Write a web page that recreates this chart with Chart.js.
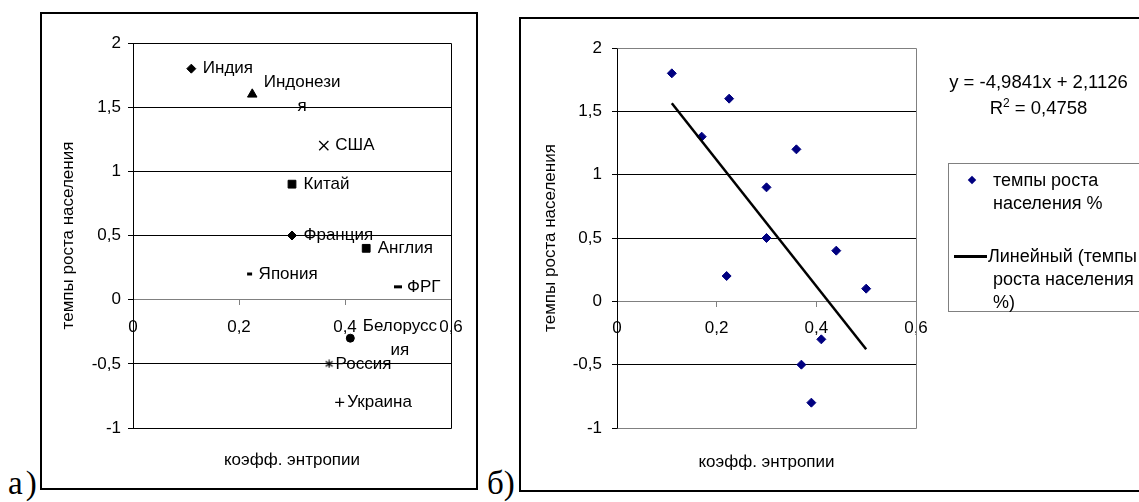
<!DOCTYPE html>
<html lang="ru">
<head>
<meta charset="utf-8">
<title>Темпы роста населения и коэфф. энтропии</title>
<script src="https://cdn.jsdelivr.net/npm/chart.js@4.4.0/dist/chart.umd.min.js"></script>
<style>
  html, body { margin:0; padding:0; background:#fff; overflow:hidden; }
  body { width:1139px; height:502px; position:relative; font-family:'Liberation Sans', Arial, sans-serif; color:#000; }
  .frame { position:absolute; border:2px solid #000; box-sizing:border-box; pointer-events:none; }
  .panel { position:absolute; }
  .tag { position:absolute; font-family:'Liberation Serif','Times New Roman',serif; font-size:33px; line-height:33px; }
  .txt { position:absolute; font-size:18px; line-height:20px; white-space:nowrap; }
  #legendBox { position:absolute; left:948px; top:163px; width:230px; height:149px; border:1px solid #808080; box-sizing:border-box; background:#fff; }
  #eq { position:absolute; left:938px; top:69px; width:201px; text-align:center; font-size:18.5px; line-height:26px; white-space:nowrap; }
  #eq .sup { font-size:12px; position:relative; top:-7px; }
  .mk { position:absolute; left:969px; top:177px; width:6px; height:6px; background:#000080; transform:rotate(45deg); }
  .ln { position:absolute; left:954px; top:255px; width:33px; height:2.5px; background:#000; }
</style>
</head>
<body>

<div class="frame" style="left:40px;top:12px;width:438px;height:478px"></div>
<div class="frame" style="left:519px;top:17px;width:640px;height:475px"></div>
<div class="tag" style="left:8px;top:467px;letter-spacing:3px">а)</div>
<div class="tag" style="left:487px;top:467px">б)</div>

<div class="panel" style="left:41px;top:13px"><canvas id="chartA" width="436" height="476"></canvas></div>
<div class="panel" style="left:520px;top:18px"><canvas id="chartB" width="619" height="473"></canvas></div>

<div id="eq">y = -4,9841x + 2,1126<br>R<span class="sup">2</span> = 0,4758</div>

<div id="legendBox"></div>
<div class="mk"></div>
<div class="txt" style="left:993px;top:170px">темпы роста</div>
<div class="txt" style="left:993px;top:193px">населения %</div>
<div class="ln"></div>
<div class="txt" style="left:988px;top:246px">Линейный (темпы</div>
<div class="txt" style="left:993px;top:269px">роста населения</div>
<div class="txt" style="left:993px;top:292px">%)</div>

<script>
// --- данные (а) ---
const countries = ['Индия','Индонезия','США','Китай','Франция','Англия','Япония','ФРГ','Белоруссия','Россия','Украина'];
const labelLines = [['Индия'],['Индонези','я'],['США'],['Китай'],['Франция'],['Англия'],['Япония'],['ФРГ'],['Белорусс','ия'],['Россия'],['Украина']];
const entropyA = [0.11, 0.225, 0.36, 0.30, 0.30, 0.44, 0.22, 0.50, 0.41, 0.37, 0.39];
const growthA  = [1.8, 1.6, 1.2, 0.9, 0.5, 0.4, 0.2, 0.1, -0.3, -0.5, -0.8];

// --- данные (б) ---
const entropyB = [0.11, 0.17, 0.225, 0.36, 0.30, 0.30, 0.44, 0.22, 0.50, 0.41, 0.37, 0.39];
const growthB  = [1.8, 1.3, 1.6, 1.2, 0.9, 0.5, 0.4, 0.2, 0.1, -0.3, -0.5, -0.8];
const trendX = [0.11, 0.50];
const trendY = [1.564, -0.379];

const yTicks = {min: -1, max: 2, step: 0.5};
const xTicks = {min: 0, max: 0.6, step: 0.2};

const GRAY = '#808080';
const FONT = {family: "'Liberation Sans', Arial, sans-serif", size: 17};
const comma = v => String(Math.round(v * 10) / 10).replace('.', ',');

// звёздочка как в Excel (вертикаль + косой крест)
function asterisk() {
  const c = document.createElement('canvas');
  c.width = 9; c.height = 9;
  const g = c.getContext('2d');
  g.strokeStyle = '#000'; g.lineWidth = 1.2;
  g.beginPath();
  g.moveTo(4.5, 0.5); g.lineTo(4.5, 8.5);
  g.moveTo(1, 2); g.lineTo(8, 7);
  g.moveTo(8, 2); g.lineTo(1, 7);
  g.stroke();
  return c;
}

const starMark = asterisk();
const markerA = ['rectRot','triangle','crossRot','rect','rectRot','rect','line','line','circle', starMark,'cross'];
const radiusA = [4.5, 5.5, 6.5, 5.5, 4.5, 5.5, 2.5, 4, 4, 5, 4.5];
const widthA  = [1, 1, 1.3, 1, 1, 1, 3, 3, 1, 1, 1.3];

// отступ подписи от маркера зависит от вида маркера
function labelGap(style) {
  if (style === starMark) return 6.5;
  return {line: 9, cross: 7.5, circle: 12.5}[style] || 11.5;
}

// рамка области построения (верх, право, низ)
const plotFrame = {
  id: 'plotFrame',
  beforeDatasetsDraw(chart, args, opts) {
    const {ctx, chartArea: a} = chart;
    ctx.save();
    ctx.strokeStyle = opts.color; ctx.lineWidth = 1;
    ctx.beginPath();
    ctx.moveTo(Math.round(a.left) + 0.5, Math.round(a.top) + 0.5);
    ctx.lineTo(Math.round(a.right) + 0.5, Math.round(a.top) + 0.5);
    ctx.lineTo(Math.round(a.right) + 0.5, Math.round(a.bottom) + 0.5);
    ctx.lineTo(Math.round(a.left) + 0.5, Math.round(a.bottom) + 0.5);
    ctx.stroke();
    ctx.restore();
  }
};

// подписи стран справа от маркеров
const pointLabels = {
  id: 'pointLabels',
  afterDatasetsDraw(chart, args, opts) {
    if (!opts.lines) return;
    const {ctx} = chart;
    const meta = chart.getDatasetMeta(0);
    const styles = chart.data.datasets[0].pointStyle;
    ctx.save();
    ctx.font = `${FONT.size}px ${FONT.family}`;
    ctx.fillStyle = '#000';
    ctx.textAlign = 'center';
    ctx.textBaseline = 'middle';
    meta.data.forEach((pt, i) => {
      const lines = opts.lines[i];
      const w = Math.max(...lines.map(l => ctx.measureText(l).width));
      const x0 = pt.x + labelGap(styles[i]);
      lines.forEach((l, j) => {
        ctx.fillText(l, x0 + w / 2, pt.y + (j - (lines.length - 1) / 2) * opts.lineHeight);
      });
    });
    ctx.restore();
  }
};

function makeScales(cfg) {
  return {
    x: {
      type: 'linear', position: {y: 0},
      min: xTicks.min, max: xTicks.max,
      ticks: {stepSize: xTicks.step, color: '#000', font: FONT, padding: cfg.xPad, callback: comma, autoSkip: false, maxRotation: 0},
      grid: {drawOnChartArea: false, tickLength: 5, tickColor: GRAY, color: GRAY},
      border: {color: GRAY, width: 1},
      afterFit: s => { s.height = 0; s.paddingLeft = 0; s.paddingRight = 0; }
    },
    xTitle: {
      type: 'linear', position: 'bottom', axis: 'x',
      min: xTicks.min, max: xTicks.max,
      ticks: {display: false}, grid: {display: false}, border: {display: false},
      title: {display: true, text: 'коэфф. энтропии', color: '#000', font: FONT, padding: {top: 0, bottom: cfg.xTitlePad}},
      afterFit: s => { s.height = cfg.bottom; s.paddingLeft = 0; s.paddingRight = 0; }
    },
    y: {
      type: 'linear', position: 'left',
      min: yTicks.min, max: yTicks.max,
      ticks: {stepSize: yTicks.step, color: '#000', font: FONT, padding: cfg.yPad, callback: comma},
      grid: {
        color: c => cfg.grayLines.includes(c.tick && c.tick.value) ? GRAY : '#000',
        tickColor: '#000', tickLength: 5
      },
      border: {color: '#000', width: 1},
      title: {display: true, text: 'темпы роста населения', color: '#000', font: FONT, padding: {top: cfg.yTitlePad, bottom: 0}},
      afterFit: s => { s.width = cfg.left; s.paddingTop = 0; s.paddingBottom = 0; }
    }
  };
}

new Chart(document.getElementById('chartA'), {
  type: 'scatter',
  data: {
    datasets: [{
      label: 'темпы роста населения',
      data: entropyA.map((x, i) => ({x, y: growthA[i]})),
      pointStyle: markerA,
      pointRadius: radiusA,
      pointBorderWidth: widthA,
      backgroundColor: '#000',
      borderColor: '#000'
    }]
  },
  options: {
    responsive: false, animation: false, events: [],
    layout: {padding: {top: 30, right: 26, bottom: 0, left: 0}},
    plugins: {
      legend: {display: false}, tooltip: {enabled: false},
      plotFrame: {color: '#000'},
      pointLabels: {lines: labelLines, lineHeight: 23.5}
    },
    scales: makeScales({left: 92, bottom: 61, xPad: 12, xTitlePad: 18, yPad: 7, yTitlePad: 17, grayLines: [0]})
  },
  plugins: [plotFrame, pointLabels]
});

new Chart(document.getElementById('chartB'), {
  type: 'scatter',
  data: {
    datasets: [{
      label: 'Линейный (темпы роста населения %)',
      type: 'line',
      data: trendX.map((x, i) => ({x, y: trendY[i]})),
      borderColor: '#000', borderWidth: 2.5, pointRadius: 0, fill: false, order: 0
    }, {
      label: 'темпы роста населения %',
      data: entropyB.map((x, i) => ({x, y: growthB[i]})),
      pointStyle: 'rectRot', pointRadius: 4.5, pointBorderWidth: 1,
      backgroundColor: '#000080', borderColor: '#000080', order: 1
    }]
  },
  options: {
    responsive: false, animation: false, events: [],
    layout: {padding: {top: 30, right: 223, bottom: 0, left: 0}},
    plugins: {
      legend: {display: false}, tooltip: {enabled: false},
      plotFrame: {color: GRAY},
      pointLabels: {}
    },
    scales: makeScales({left: 97, bottom: 63, xPad: 12, xTitlePad: 18, yPad: 10, yTitlePad: 20, grayLines: [0, 2, -1]})
  },
  plugins: [plotFrame, pointLabels]
});
</script>
</body>
</html>
